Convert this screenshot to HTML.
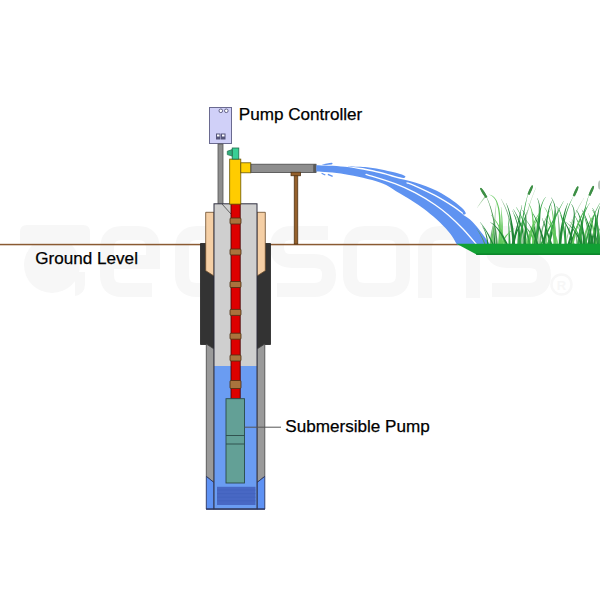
<!DOCTYPE html>
<html><head><meta charset="utf-8">
<style>
html,body{margin:0;padding:0;background:#fff;width:600px;height:600px;overflow:hidden}
svg{display:block}
text{font-family:"Liberation Sans",sans-serif}
</style></head>
<body>
<svg width="600" height="600" viewBox="0 0 600 600">
<rect width="600" height="600" fill="#fff"/>
<!-- watermark -->
<g fill="none" stroke="#f7f7f7" stroke-width="14">
<path d="M107,262 H153 V249 Q153,233 138,233 H122 Q107,233 107,249 V275 Q107,290 122,290 H152"/>
<path d="M243,233 H197 Q182,233 182,249 V275 Q182,290 197,290 H243 V215"/>
<path d="M328,233 H292 Q277,233 277,247 Q277,261 292,261 H314 Q329,261 329,275 Q329,290 314,290 H277"/>
<path d="M365,233 H388 Q403,233 403,249 V275 Q403,290 388,290 H365 Q350,290 350,275 V249 Q350,233 365,233 Z"/>
<path d="M425,298 V249 Q425,233 440,233 H458 Q473,233 473,249 V298"/>
<path d="M543,233 H507 Q492,233 492,247 Q492,261 507,261 H529 Q544,261 544,275 Q544,290 529,290 H492"/>
</g>
<g fill="#f7f7f7">
<path d="M20,232 Q20,225 27,225 H83 Q90,225 90,232 V245 H20 Z"/>
<circle cx="52" cy="265" r="28"/>
<path d="M75,272 h10 v12 q0,10 -10,12 z"/>
</g>
<circle cx="561.5" cy="284.5" r="10" fill="none" stroke="#f7f7f7" stroke-width="2.5"/>
<text x="561.5" y="290" font-size="13" font-weight="bold" text-anchor="middle" fill="#f7f7f7">R</text>

<!-- ground line -->
<rect x="0" y="243.8" width="460" height="1.5" fill="#8a5a32"/>

<!-- pump controller box -->
<rect x="209.5" y="107.5" width="22" height="36" fill="#d0d0f8" stroke="#6a6a90" stroke-width="1"/>
<circle cx="220.8" cy="110.8" r="1.8" fill="#fff" stroke="#55557a" stroke-width="0.9"/>
<circle cx="226.3" cy="110.8" r="1.8" fill="#fff" stroke="#55557a" stroke-width="0.9"/>
<rect x="216" y="133.5" width="4.5" height="6" fill="#55557a"/>
<rect x="221" y="133.5" width="4.5" height="6" fill="#55557a"/>
<rect x="217" y="134.5" width="2.5" height="2" fill="#fff"/>
<rect x="222" y="134.5" width="2.5" height="2" fill="#fff"/>

<!-- controller pole -->
<rect x="218" y="144" width="5" height="62" fill="#8e8e8e" stroke="#555" stroke-width="0.8"/>

<!-- black outer (upper) -->
<path d="M200.5 243.5 H214 V352 L206.3 344.5 H200.5 Z" fill="#333" stroke="#222" stroke-width="0.8"/>
<path d="M270.5 243.5 H257 V352 L264.7 344.5 H270.5 Z" fill="#333" stroke="#222" stroke-width="0.8"/>
<!-- tan sleeve -->
<path d="M205.7 212.3 H214 V276 L205.7 270.7 Z" fill="#f5cfa5" stroke="#6a4a2a" stroke-width="0.8"/>
<path d="M265.3 212.3 H257 V276 L265.3 270.7 Z" fill="#f5cfa5" stroke="#6a4a2a" stroke-width="0.8"/>

<!-- outer gray casing lower -->
<path d="M206.3 344 L214 349 V482.5 L206.3 476.4 Z" fill="#9a9a9a" stroke="#444" stroke-width="0.8"/>
<path d="M264.8 344 L257 349 V482.5 L264.8 476.4 Z" fill="#9a9a9a" stroke="#444" stroke-width="0.8"/>
<!-- blue outer bottom -->
<path d="M206.3 476.4 L214 482.5 V509 H206.3 Z" fill="#5e92f4" stroke="#2a3560" stroke-width="0.9"/>
<path d="M264.8 476.4 L257 482.5 V509 H264.8 Z" fill="#5e92f4" stroke="#2a3560" stroke-width="0.9"/>

<!-- inner casing -->
<rect x="214" y="203.8" width="43" height="162.2" fill="#cfcfcf"/>
<rect x="214" y="366" width="43" height="143" fill="#6a9cf2"/>
<rect x="214" y="203.8" width="43" height="305.2" fill="none" stroke="#303040" stroke-width="1"/>
<line x1="206" y1="509.2" x2="265" y2="509.2" stroke="#2a3560" stroke-width="1.3"/>
<line x1="222" y1="204" x2="231" y2="214" stroke="#444" stroke-width="0.8"/>

<!-- screen -->
<rect x="217" y="486.8" width="38.5" height="18.2" fill="#4868c4"/>
<g stroke="#4262bd" stroke-width="0.7"><line x1="217" y1="490" x2="255.5" y2="490"/><line x1="217" y1="493.6" x2="255.5" y2="493.6"/><line x1="217" y1="497.2" x2="255.5" y2="497.2"/><line x1="217" y1="500.8" x2="255.5" y2="500.8"/></g>

<!-- red riser pipe -->
<rect x="231" y="203.8" width="9.2" height="195" fill="#dd0000" stroke="#400" stroke-width="0.8"/>
<!-- couplings -->
<g fill="#a9733d" stroke="#4a2e12" stroke-width="0.8">
<rect x="230" y="218" width="11" height="6" rx="1"/>
<rect x="230" y="249" width="11" height="6" rx="1"/>
<rect x="230" y="281.5" width="11" height="6" rx="1"/>
<rect x="230" y="309.4" width="11" height="6" rx="1"/>
<rect x="230" y="333.2" width="11" height="6" rx="1"/>
<rect x="230" y="355" width="11" height="6" rx="1"/>
<rect x="230" y="380.5" width="11" height="8" rx="1"/>
</g>

<!-- pump body -->
<rect x="226" y="398.7" width="18.5" height="84.3" fill="#63a096" stroke="#2b4a48" stroke-width="0.9"/>
<line x1="226" y1="435.5" x2="244.5" y2="435.5" stroke="#2b4a48" stroke-width="0.9"/>
<line x1="226" y1="444" x2="244.5" y2="444" stroke="#2b4a48" stroke-width="0.9"/>
<line x1="244.5" y1="427.2" x2="281" y2="427.2" stroke="#555" stroke-width="1"/>

<!-- yellow vertical -->
<rect x="229.7" y="159.1" width="11.1" height="45" fill="#ffcc00" stroke="#6a5500" stroke-width="0.8"/>
<!-- green valve -->
<rect x="232.2" y="148" width="6.6" height="11.1" fill="#38cf95" stroke="#1f6a4a" stroke-width="0.8"/>
<path d="M232.2 149.6 L227.3 151.2 V154.6 L232.2 156.1 Z" fill="#2fae7c" stroke="#1f6a4a" stroke-width="0.7"/>
<!-- yellow elbow -->
<rect x="240.8" y="162.8" width="10" height="10" fill="#ffd000" stroke="#6a5500" stroke-width="0.8"/>
<!-- gray horizontal pipe -->
<rect x="251" y="164.2" width="65" height="8.4" fill="#8e8e8e" stroke="#4a4a4a" stroke-width="0.8"/>
<rect x="313.2" y="164" width="3.2" height="8.8" rx="1" fill="#5a5a5a"/>

<!-- support post -->
<rect x="294.2" y="175" width="3.6" height="69" fill="#94602c" stroke="#4a2e12" stroke-width="0.7"/>
<rect x="291" y="172.2" width="9.6" height="3.6" fill="#94602c" stroke="#4a2e12" stroke-width="0.7"/>

<!-- water spray -->

<g fill="#5f93f1">
<path d="M316.30,165.20 C321.08,165.47 334.38,165.47 345.00,166.80 C355.62,168.13 371.67,171.40 380.00,173.20 C388.33,175.00 389.17,176.03 395.00,177.60 C400.83,179.17 408.05,180.40 415.00,182.60 C421.95,184.80 430.32,187.73 436.70,190.80 C443.08,193.87 449.17,198.20 453.30,201.00 C457.43,203.80 459.55,205.85 461.50,207.60 C463.45,209.35 464.42,210.85 465.00,211.50 L465.00,211.50 C465.13,211.85 465.97,213.08 465.80,213.60 C465.63,214.12 464.63,214.50 464.00,214.60 C463.37,214.70 462.33,214.27 462.00,214.20 L462.00,214.20 C463.33,215.10 467.00,216.85 470.00,219.60 C473.00,222.35 476.67,226.55 480.00,230.70 C483.33,234.85 488.33,242.20 490.00,244.50 L457,244.5 C455.92,242.75 453.33,237.67 450.50,234.00 C447.67,230.33 443.97,226.33 440.00,222.50 C436.03,218.67 430.87,214.30 426.70,211.00 C422.53,207.70 419.45,205.62 415.00,202.70 C410.55,199.78 405.83,196.88 400.00,193.50 C394.17,190.12 389.17,185.62 380.00,182.40 C370.83,179.18 355.62,176.00 345.00,174.20 C334.38,172.40 321.08,172.03 316.30,171.60 Z"/>
<path d="M348.00,166.40 C350.83,166.50 359.67,166.53 365.00,167.00 C370.33,167.47 375.00,168.27 380.00,169.20 C385.00,170.13 391.08,171.60 395.00,172.60 C398.92,173.60 401.73,174.50 403.50,175.20 C405.27,175.90 405.25,176.53 405.60,176.80 L405.60,176.80 C405.25,176.98 405.27,178.03 403.50,177.90 C401.73,177.77 398.92,177.02 395.00,176.00 C391.08,174.98 385.00,173.07 380.00,171.80 C375.00,170.53 370.33,169.23 365.00,168.40 C359.67,167.57 350.83,167.07 348.00,166.80 Z"/>
<path d="M321.5,164.6 C325,163.8 329,163 332,162.8 C333,163.3 332.5,164.2 331.5,164.5 C328,165 324.5,165 321.5,164.6 Z"/>
<path d="M321.8,172.8 L325.6,174.6 L325,175.6 L321.4,173.8 Z"/>
<path d="M328.2,173.8 L332.9,175.8 L332.4,177 L327.6,175 Z"/>
</g>
<path d="M366.00,174.40 C370.83,175.95 386.83,180.65 395.00,183.70 C403.17,186.75 408.33,189.20 415.00,192.70 C421.67,196.20 429.45,200.98 435.00,204.70 C440.55,208.42 443.63,210.95 448.30,215.00 C452.97,219.05 458.30,224.08 463.00,229.00 C467.70,233.92 474.25,241.92 476.50,244.50" fill="none" stroke="#fff" stroke-width="1.3" stroke-linecap="round"/>
<path d="M407.00,182.80 C408.33,183.30 410.33,183.70 415.00,185.80 C419.67,187.90 428.62,191.97 435.00,195.40 C441.38,198.83 448.72,203.43 453.30,206.40 C457.88,209.37 460.97,212.07 462.50,213.20" fill="none" stroke="#fff" stroke-width="1.3" stroke-linecap="round"/>

<!-- grass -->
<path d="M540.7,247.1 L540.9,244.2 L541.1,241.4 L541.4,238.6 L541.7,235.9 L542.1,233.3 L542.6,230.7 L543.2,228.2 L543.8,225.7 L544.6,223.3 L545.4,221.0 L546.2,218.7 L547.2,216.4 L548.2,214.3 L549.3,212.1 L550.5,210.1 L551.7,208.1 L551.6,207.9 L550.2,209.9 L548.9,211.9 L547.7,214.0 L546.6,216.2 L545.5,218.4 L544.6,220.6 L543.6,223.0 L542.8,225.4 L542.0,227.9 L541.4,230.4 L540.7,233.0 L540.2,235.7 L539.7,238.4 L539.3,241.2 L539.0,244.0 L538.8,246.9Z" fill="#4f9a58" opacity="0.8"/>
<path d="M585.0,247.0 L585.1,244.9 L585.2,242.7 L585.4,240.6 L585.7,238.6 L586.0,236.6 L586.3,234.6 L586.7,232.7 L587.1,230.8 L587.6,229.0 L588.2,227.2 L588.8,225.4 L589.5,223.7 L590.2,222.0 L590.9,220.4 L591.8,218.8 L592.6,217.3 L592.5,217.2 L591.5,218.7 L590.6,220.2 L589.7,221.8 L588.9,223.4 L588.1,225.1 L587.4,226.9 L586.7,228.7 L586.1,230.5 L585.5,232.4 L585.0,234.3 L584.6,236.3 L584.1,238.3 L583.8,240.4 L583.5,242.5 L583.3,244.7 L583.1,247.0Z" fill="#4f9a58" opacity="0.8"/>
<path d="M578.1,247.0 L577.9,244.9 L577.8,242.9 L577.6,241.0 L577.3,239.1 L577.1,237.2 L576.7,235.4 L576.4,233.6 L576.0,231.9 L575.6,230.2 L575.2,228.5 L574.7,226.9 L574.2,225.4 L573.7,223.9 L573.1,222.4 L572.5,221.0 L571.8,219.6 L571.6,219.7 L572.2,221.1 L572.7,222.5 L573.2,224.0 L573.7,225.5 L574.1,227.1 L574.5,228.7 L574.8,230.4 L575.1,232.0 L575.4,233.8 L575.6,235.5 L575.9,237.4 L576.0,239.2 L576.2,241.1 L576.3,243.0 L576.4,245.0 L576.4,247.0Z" fill="#4f9a58" opacity="0.8"/>
<path d="M560.8,247.0 L560.7,244.0 L560.6,241.1 L560.4,238.3 L560.3,235.5 L560.1,232.8 L559.9,230.1 L559.7,227.5 L559.5,225.0 L559.2,222.6 L558.9,220.2 L558.7,217.8 L558.4,215.6 L558.0,213.3 L557.7,211.2 L557.4,209.1 L557.0,207.1 L556.8,207.1 L557.0,209.2 L557.3,211.3 L557.5,213.4 L557.7,215.6 L557.9,217.9 L558.1,220.2 L558.2,222.6 L558.4,225.1 L558.5,227.6 L558.6,230.2 L558.7,232.9 L558.7,235.6 L558.8,238.3 L558.8,241.2 L558.8,244.1 L558.8,247.0Z" fill="#4f9a58" opacity="0.8"/>
<path d="M558.7,246.9 L558.4,244.7 L558.1,242.6 L557.6,240.5 L557.1,238.5 L556.5,236.5 L555.8,234.6 L555.0,232.7 L554.1,230.8 L553.2,229.1 L552.2,227.3 L551.0,225.7 L549.8,224.0 L548.5,222.4 L547.2,220.9 L545.7,219.4 L544.2,218.0 L544.1,218.1 L545.5,219.6 L546.9,221.2 L548.1,222.8 L549.3,224.4 L550.4,226.1 L551.4,227.8 L552.3,229.5 L553.1,231.3 L553.9,233.1 L554.5,235.0 L555.1,236.9 L555.6,238.9 L556.0,240.9 L556.3,242.9 L556.6,245.0 L556.7,247.1Z" fill="#62c85c" opacity="0.8"/>
<path d="M495.0,247.0 L495.0,243.5 L495.0,240.1 L495.0,236.8 L495.1,233.5 L495.1,230.3 L495.2,227.2 L495.3,224.2 L495.4,221.2 L495.5,218.3 L495.6,215.5 L495.8,212.7 L495.9,210.0 L496.1,207.4 L496.3,204.9 L496.6,202.4 L496.8,200.0 L496.6,200.0 L496.2,202.4 L495.9,204.8 L495.6,207.4 L495.2,210.0 L494.9,212.6 L494.7,215.4 L494.4,218.2 L494.2,221.1 L493.9,224.1 L493.7,227.1 L493.5,230.3 L493.3,233.5 L493.2,236.7 L493.0,240.1 L492.9,243.5 L492.8,247.0Z" fill="#9cc99a" opacity="0.8"/>
<path d="M539.5,247.0 L539.5,243.6 L539.4,240.2 L539.4,237.0 L539.3,233.8 L539.3,230.6 L539.3,227.6 L539.2,224.6 L539.2,221.7 L539.2,218.8 L539.2,216.1 L539.1,213.4 L539.1,210.7 L539.1,208.2 L539.1,205.7 L539.1,203.3 L539.1,200.9 L538.9,200.9 L538.8,203.3 L538.7,205.7 L538.5,208.2 L538.4,210.7 L538.3,213.3 L538.2,216.0 L538.1,218.8 L538.0,221.7 L537.9,224.6 L537.9,227.6 L537.8,230.6 L537.7,233.8 L537.6,237.0 L537.5,240.2 L537.5,243.6 L537.4,247.0Z" fill="#9cc99a" opacity="0.8"/>
<path d="M491.5,247.0 L491.5,245.0 L491.5,243.1 L491.6,241.1 L491.7,239.3 L491.8,237.4 L492.0,235.6 L492.1,233.9 L492.3,232.2 L492.6,230.5 L492.8,228.9 L493.1,227.3 L493.4,225.7 L493.8,224.2 L494.1,222.7 L494.5,221.3 L494.9,219.9 L494.7,219.8 L494.2,221.2 L493.7,222.6 L493.2,224.1 L492.8,225.6 L492.4,227.1 L492.0,228.7 L491.6,230.3 L491.3,232.0 L491.0,233.7 L490.7,235.5 L490.4,237.3 L490.2,239.1 L490.0,241.0 L489.8,243.0 L489.7,244.9 L489.5,247.0Z" fill="#4f9a58" opacity="0.8"/>
<path d="M600.5,247.0 L600.5,243.6 L600.6,240.3 L600.7,237.0 L600.8,233.8 L601.0,230.7 L601.2,227.7 L601.5,224.7 L601.8,221.8 L602.1,218.9 L602.5,216.2 L602.9,213.5 L603.3,210.8 L603.8,208.3 L604.3,205.8 L604.9,203.4 L605.4,201.0 L605.2,201.0 L604.6,203.3 L603.9,205.7 L603.3,208.2 L602.7,210.7 L602.2,213.3 L601.7,216.0 L601.2,218.8 L600.8,221.6 L600.4,224.5 L600.0,227.5 L599.7,230.6 L599.4,233.7 L599.1,236.9 L598.9,240.2 L598.7,243.6 L598.6,247.0Z" fill="#62c85c" opacity="0.8"/>
<path d="M547.3,247.0 L547.2,245.1 L547.2,243.2 L547.2,241.4 L547.3,239.6 L547.3,237.9 L547.3,236.2 L547.4,234.5 L547.4,232.9 L547.5,231.3 L547.6,229.7 L547.7,228.2 L547.8,226.8 L547.9,225.3 L548.0,223.9 L548.1,222.6 L548.3,221.3 L548.1,221.2 L547.8,222.5 L547.6,223.9 L547.4,225.3 L547.2,226.7 L547.0,228.2 L546.8,229.7 L546.6,231.2 L546.5,232.8 L546.3,234.4 L546.2,236.1 L546.1,237.8 L545.9,239.6 L545.8,241.4 L545.7,243.2 L545.6,245.1 L545.6,247.0Z" fill="#62c85c" opacity="0.8"/>
<path d="M584.3,247.1 L584.4,244.5 L584.6,242.0 L584.9,239.6 L585.3,237.2 L585.7,234.9 L586.3,232.6 L586.9,230.3 L587.6,228.2 L588.3,226.0 L589.2,223.9 L590.1,221.9 L591.1,219.9 L592.2,217.9 L593.4,216.0 L594.7,214.2 L596.0,212.4 L595.9,212.3 L594.4,214.0 L593.0,215.8 L591.7,217.6 L590.5,219.5 L589.4,221.5 L588.3,223.5 L587.3,225.6 L586.4,227.7 L585.6,229.9 L584.8,232.2 L584.1,234.5 L583.5,236.9 L583.0,239.3 L582.6,241.8 L582.3,244.3 L582.0,246.9Z" fill="#62c85c" opacity="0.8"/>
<path d="M514.4,247.0 L514.2,243.4 L513.9,239.8 L513.4,236.4 L513.0,233.0 L512.4,229.8 L511.8,226.6 L511.0,223.4 L510.2,220.4 L509.4,217.4 L508.4,214.5 L507.4,211.7 L506.3,208.9 L505.1,206.3 L503.8,203.7 L502.5,201.2 L501.0,198.8 L500.9,198.9 L502.2,201.3 L503.4,203.9 L504.6,206.5 L505.7,209.2 L506.7,211.9 L507.6,214.8 L508.4,217.7 L509.2,220.6 L509.9,223.7 L510.5,226.8 L511.0,230.0 L511.5,233.3 L511.9,236.6 L512.2,240.0 L512.4,243.5 L512.5,247.0Z" fill="#4f9a58" opacity="0.8"/>
<path d="M534.8,247.0 L534.8,245.0 L534.8,243.1 L534.9,241.2 L534.9,239.4 L535.0,237.5 L535.1,235.8 L535.3,234.0 L535.4,232.3 L535.6,230.7 L535.8,229.1 L536.0,227.5 L536.2,225.9 L536.5,224.5 L536.8,223.0 L537.1,221.6 L537.4,220.2 L537.2,220.1 L536.8,221.5 L536.4,222.9 L535.9,224.3 L535.5,225.8 L535.2,227.3 L534.8,228.9 L534.5,230.5 L534.2,232.2 L533.9,233.9 L533.7,235.6 L533.4,237.4 L533.2,239.2 L533.0,241.1 L532.9,243.0 L532.7,245.0 L532.6,247.0Z" fill="#9cc99a" opacity="0.8"/>
<path d="M528.0,246.9 L527.8,244.5 L527.4,242.1 L527.0,239.7 L526.4,237.4 L525.8,235.2 L525.1,233.0 L524.3,230.8 L523.5,228.8 L522.5,226.7 L521.5,224.8 L520.4,222.9 L519.2,221.0 L517.9,219.2 L516.5,217.5 L515.1,215.8 L513.6,214.2 L513.4,214.3 L514.9,216.0 L516.2,217.7 L517.5,219.5 L518.6,221.4 L519.7,223.2 L520.7,225.2 L521.7,227.2 L522.5,229.2 L523.2,231.2 L523.9,233.4 L524.5,235.5 L525.0,237.7 L525.4,240.0 L525.7,242.3 L525.9,244.7 L526.1,247.1Z" fill="#62c85c" opacity="0.8"/>
<path d="M506.0,246.9 L505.7,244.7 L505.4,242.5 L504.9,240.3 L504.4,238.1 L503.7,236.0 L503.0,233.9 L502.2,231.9 L501.3,229.9 L500.3,227.9 L499.3,225.9 L498.1,224.0 L496.9,222.1 L495.6,220.2 L494.2,218.4 L492.7,216.6 L491.2,214.8 L491.0,214.9 L492.5,216.8 L493.8,218.7 L495.1,220.6 L496.3,222.5 L497.4,224.4 L498.4,226.4 L499.3,228.4 L500.1,230.4 L500.8,232.4 L501.5,234.4 L502.0,236.5 L502.5,238.6 L502.9,240.7 L503.2,242.8 L503.4,244.9 L503.6,247.1Z" fill="#62c85c"/>
<path d="M510.6,247.0 L510.6,245.0 L510.5,243.0 L510.4,241.1 L510.2,239.1 L510.1,237.2 L510.0,235.3 L509.8,233.5 L509.7,231.6 L509.5,229.8 L509.4,228.0 L509.2,226.3 L509.0,224.5 L508.8,222.8 L508.6,221.1 L508.4,219.5 L508.2,217.8 L508.0,217.8 L508.1,219.5 L508.2,221.2 L508.2,222.9 L508.3,224.6 L508.4,226.3 L508.4,228.1 L508.5,229.9 L508.5,231.7 L508.5,233.5 L508.5,235.4 L508.6,237.3 L508.6,239.2 L508.5,241.1 L508.5,243.1 L508.5,245.0 L508.4,247.0Z" fill="#33a444"/>
<path d="M537.6,247.0 L537.5,245.2 L537.3,243.5 L537.2,241.7 L537.0,240.0 L536.8,238.3 L536.5,236.7 L536.3,235.0 L536.0,233.4 L535.7,231.8 L535.4,230.3 L535.1,228.7 L534.8,227.2 L534.4,225.7 L534.1,224.2 L533.7,222.7 L533.3,221.3 L533.1,221.3 L533.3,222.8 L533.5,224.3 L533.7,225.8 L533.9,227.3 L534.1,228.9 L534.2,230.4 L534.3,232.0 L534.4,233.6 L534.5,235.2 L534.6,236.9 L534.6,238.5 L534.7,240.2 L534.7,241.9 L534.7,243.6 L534.7,245.3 L534.6,247.0Z" fill="#1e8535"/>
<path d="M520.8,247.0 L520.9,244.5 L521.0,242.0 L521.2,239.5 L521.4,237.1 L521.7,234.6 L522.0,232.2 L522.4,229.8 L522.8,227.5 L523.3,225.2 L523.9,222.9 L524.5,220.6 L525.1,218.3 L525.8,216.1 L526.6,213.9 L527.4,211.8 L528.3,209.6 L528.1,209.5 L527.1,211.6 L526.2,213.8 L525.3,215.9 L524.4,218.1 L523.6,220.3 L522.9,222.6 L522.2,224.9 L521.6,227.2 L521.0,229.6 L520.5,232.0 L520.1,234.4 L519.6,236.8 L519.3,239.3 L519.0,241.8 L518.7,244.4 L518.5,247.0Z" fill="#1e8535"/>
<path d="M514.5,247.1 L514.6,245.4 L514.7,243.6 L514.9,241.9 L515.2,240.3 L515.5,238.6 L515.9,236.9 L516.3,235.3 L516.8,233.7 L517.4,232.1 L518.0,230.5 L518.7,228.9 L519.5,227.3 L520.3,225.7 L521.2,224.2 L522.2,222.7 L523.2,221.2 L523.0,221.1 L521.9,222.5 L520.8,223.9 L519.8,225.4 L518.8,226.9 L517.9,228.4 L517.0,230.0 L516.2,231.6 L515.5,233.2 L514.8,234.8 L514.2,236.4 L513.7,238.1 L513.2,239.8 L512.8,241.6 L512.4,243.3 L512.1,245.1 L511.9,246.9Z" fill="#1e8535"/>
<path d="M495.6,247.0 L495.6,245.5 L495.5,244.1 L495.4,242.7 L495.2,241.3 L495.1,240.0 L495.0,238.6 L494.8,237.3 L494.7,236.0 L494.5,234.7 L494.4,233.4 L494.2,232.1 L494.0,230.9 L493.8,229.6 L493.6,228.4 L493.3,227.2 L493.1,226.1 L492.9,226.1 L493.0,227.3 L493.1,228.5 L493.2,229.7 L493.3,230.9 L493.4,232.2 L493.5,233.5 L493.5,234.8 L493.6,236.1 L493.6,237.4 L493.7,238.7 L493.7,240.0 L493.7,241.4 L493.7,242.8 L493.7,244.2 L493.7,245.6 L493.6,247.0Z" fill="#1e8535"/>
<path d="M582.4,246.9 L582.2,245.1 L581.8,243.3 L581.4,241.6 L581.0,239.9 L580.4,238.2 L579.8,236.5 L579.1,234.9 L578.3,233.2 L577.5,231.7 L576.5,230.1 L575.5,228.5 L574.5,227.0 L573.3,225.5 L572.1,224.1 L570.8,222.6 L569.5,221.2 L569.3,221.3 L570.6,222.8 L571.8,224.4 L572.9,225.9 L573.9,227.4 L574.8,229.0 L575.7,230.6 L576.5,232.1 L577.2,233.7 L577.8,235.4 L578.4,237.0 L578.9,238.6 L579.3,240.3 L579.7,242.0 L579.9,243.7 L580.1,245.4 L580.2,247.1Z" fill="#33a444"/>
<path d="M492.8,247.0 L492.8,245.3 L492.8,243.6 L492.8,241.9 L492.9,240.2 L492.9,238.6 L493.0,237.0 L493.2,235.4 L493.3,233.8 L493.5,232.2 L493.7,230.6 L493.9,229.1 L494.1,227.6 L494.3,226.1 L494.6,224.6 L494.9,223.1 L495.2,221.7 L495.0,221.6 L494.6,223.0 L494.2,224.5 L493.8,225.9 L493.4,227.4 L493.1,228.9 L492.7,230.5 L492.4,232.0 L492.2,233.6 L491.9,235.2 L491.6,236.8 L491.4,238.5 L491.2,240.1 L491.0,241.8 L490.9,243.5 L490.8,245.2 L490.6,247.0Z" fill="#62c85c"/>
<path d="M582.9,247.0 L582.7,245.5 L582.6,244.1 L582.4,242.7 L582.2,241.3 L582.0,240.0 L581.8,238.6 L581.6,237.3 L581.3,236.0 L581.0,234.7 L580.7,233.5 L580.4,232.2 L580.0,231.0 L579.7,229.8 L579.3,228.6 L578.9,227.4 L578.5,226.3 L578.3,226.3 L578.6,227.5 L578.8,228.7 L579.0,229.9 L579.3,231.2 L579.4,232.4 L579.6,233.7 L579.8,234.9 L579.9,236.2 L580.0,237.5 L580.1,238.8 L580.2,240.2 L580.2,241.5 L580.3,242.9 L580.3,244.3 L580.3,245.6 L580.2,247.0Z" fill="#1e8535"/>
<path d="M591.0,247.0 L590.8,244.6 L590.6,242.3 L590.4,239.9 L590.1,237.7 L589.7,235.4 L589.3,233.2 L588.9,231.0 L588.4,228.8 L587.9,226.7 L587.3,224.6 L586.7,222.5 L586.1,220.5 L585.4,218.5 L584.6,216.5 L583.8,214.5 L583.0,212.6 L582.8,212.7 L583.5,214.6 L584.2,216.6 L584.8,218.7 L585.4,220.7 L585.9,222.8 L586.4,224.8 L586.8,226.9 L587.2,229.1 L587.6,231.2 L587.9,233.4 L588.2,235.6 L588.4,237.9 L588.6,240.1 L588.7,242.4 L588.8,244.7 L588.8,247.0Z" fill="#33a444"/>
<path d="M566.6,247.0 L566.5,245.2 L566.5,243.5 L566.4,241.8 L566.3,240.1 L566.2,238.4 L566.2,236.7 L566.1,235.1 L566.0,233.5 L565.9,231.9 L565.8,230.3 L565.7,228.7 L565.6,227.2 L565.5,225.7 L565.4,224.2 L565.3,222.7 L565.2,221.2 L565.0,221.2 L565.0,222.7 L565.0,224.2 L565.0,225.7 L564.9,227.2 L564.9,228.7 L564.9,230.3 L564.9,231.9 L564.9,233.5 L564.8,235.1 L564.8,236.7 L564.8,238.4 L564.7,240.1 L564.7,241.8 L564.6,243.5 L564.6,245.2 L564.5,247.0Z" fill="#1e8535"/>
<path d="M502.5,247.1 L502.7,245.9 L502.9,244.7 L503.2,243.5 L503.5,242.3 L504.0,241.1 L504.5,239.9 L505.1,238.7 L505.8,237.5 L506.6,236.3 L507.5,235.1 L508.4,234.0 L509.4,232.8 L510.6,231.7 L511.8,230.5 L513.1,229.4 L514.4,228.3 L514.3,228.1 L512.9,229.2 L511.5,230.2 L510.2,231.2 L508.9,232.3 L507.8,233.4 L506.7,234.5 L505.7,235.6 L504.8,236.8 L504.0,238.0 L503.2,239.2 L502.5,240.4 L501.9,241.6 L501.4,242.9 L500.9,244.2 L500.6,245.5 L500.3,246.9Z" fill="#62c85c"/>
<path d="M519.4,247.0 L519.4,244.7 L519.4,242.3 L519.4,240.0 L519.4,237.8 L519.5,235.5 L519.5,233.3 L519.6,231.1 L519.7,228.9 L519.8,226.8 L519.9,224.7 L520.1,222.6 L520.2,220.5 L520.4,218.5 L520.6,216.5 L520.8,214.5 L521.1,212.5 L520.9,212.5 L520.5,214.5 L520.2,216.4 L519.8,218.4 L519.5,220.5 L519.2,222.5 L519.0,224.6 L518.7,226.7 L518.5,228.9 L518.2,231.0 L518.0,233.2 L517.8,235.4 L517.7,237.7 L517.5,240.0 L517.4,242.3 L517.2,244.6 L517.1,247.0Z" fill="#33a444"/>
<path d="M593.5,246.9 L593.2,244.3 L592.9,241.8 L592.5,239.3 L592.1,236.8 L591.6,234.3 L591.0,231.9 L590.4,229.5 L589.7,227.1 L589.0,224.8 L588.1,222.5 L587.2,220.2 L586.3,218.0 L585.3,215.8 L584.2,213.6 L583.1,211.5 L581.8,209.4 L581.7,209.5 L582.7,211.7 L583.8,213.8 L584.7,216.1 L585.6,218.3 L586.4,220.5 L587.1,222.8 L587.8,225.1 L588.4,227.5 L589.0,229.8 L589.5,232.2 L589.9,234.6 L590.2,237.1 L590.5,239.5 L590.7,242.0 L590.9,244.5 L591.0,247.1Z" fill="#1e8535"/>
<path d="M521.8,247.0 L521.6,244.5 L521.4,242.0 L521.1,239.5 L520.8,237.1 L520.4,234.8 L519.9,232.4 L519.4,230.1 L518.9,227.8 L518.3,225.5 L517.6,223.3 L516.9,221.1 L516.2,219.0 L515.4,216.8 L514.5,214.7 L513.6,212.7 L512.6,210.6 L512.4,210.7 L513.3,212.8 L514.1,214.9 L514.8,217.0 L515.5,219.2 L516.2,221.3 L516.8,223.6 L517.3,225.8 L517.8,228.0 L518.2,230.3 L518.6,232.6 L518.9,235.0 L519.2,237.3 L519.4,239.7 L519.6,242.1 L519.7,244.6 L519.8,247.0Z" fill="#1e8535"/>
<path d="M536.4,246.9 L536.1,245.3 L535.8,243.7 L535.3,242.1 L534.8,240.6 L534.2,239.0 L533.6,237.5 L532.8,236.1 L532.0,234.6 L531.1,233.2 L530.1,231.8 L529.1,230.5 L527.9,229.1 L526.7,227.8 L525.4,226.5 L524.1,225.2 L522.6,223.9 L522.5,224.1 L523.8,225.4 L525.1,226.8 L526.3,228.2 L527.4,229.6 L528.4,231.0 L529.3,232.4 L530.1,233.8 L530.9,235.2 L531.6,236.7 L532.2,238.1 L532.7,239.6 L533.1,241.1 L533.5,242.6 L533.8,244.1 L534.0,245.6 L534.1,247.1Z" fill="#33a444"/>
<path d="M501.3,247.0 L501.2,245.6 L501.1,244.2 L501.0,242.8 L500.9,241.4 L500.8,240.0 L500.6,238.7 L500.5,237.4 L500.4,236.1 L500.2,234.8 L500.0,233.5 L499.9,232.2 L499.7,231.0 L499.5,229.8 L499.3,228.6 L499.1,227.4 L498.8,226.2 L498.7,226.2 L498.7,227.4 L498.8,228.6 L498.9,229.8 L498.9,231.1 L499.0,232.3 L499.0,233.6 L499.1,234.8 L499.1,236.1 L499.1,237.4 L499.1,238.8 L499.1,240.1 L499.1,241.5 L499.1,242.8 L499.1,244.2 L499.0,245.6 L499.0,247.0Z" fill="#33a444"/>
<path d="M556.1,247.0 L556.0,244.5 L555.9,242.0 L555.8,239.6 L555.7,237.2 L555.6,234.8 L555.5,232.5 L555.4,230.1 L555.3,227.8 L555.2,225.6 L555.1,223.3 L555.0,221.1 L554.8,219.0 L554.7,216.8 L554.6,214.7 L554.4,212.6 L554.3,210.5 L554.1,210.5 L554.1,212.6 L554.1,214.7 L554.1,216.8 L554.1,219.0 L554.1,221.2 L554.1,223.4 L554.1,225.6 L554.0,227.9 L554.0,230.2 L554.0,232.5 L553.9,234.8 L553.9,237.2 L553.9,239.6 L553.8,242.0 L553.8,244.5 L553.7,247.0Z" fill="#1e8535"/>
<path d="M597.1,247.0 L597.1,245.8 L597.1,244.6 L597.2,243.4 L597.2,242.2 L597.3,241.0 L597.4,239.8 L597.6,238.6 L597.7,237.5 L597.9,236.3 L598.1,235.2 L598.3,234.1 L598.6,232.9 L598.8,231.8 L599.1,230.8 L599.5,229.7 L599.8,228.6 L599.6,228.5 L599.1,229.6 L598.7,230.6 L598.2,231.7 L597.8,232.7 L597.4,233.8 L597.1,234.9 L596.7,236.0 L596.4,237.2 L596.1,238.4 L595.8,239.5 L595.6,240.7 L595.3,241.9 L595.1,243.2 L595.0,244.4 L594.8,245.7 L594.7,247.0Z" fill="#1e8535"/>
<path d="M526.4,246.9 L526.1,244.3 L525.8,241.7 L525.3,239.1 L524.9,236.6 L524.3,234.1 L523.7,231.7 L522.9,229.2 L522.2,226.9 L521.3,224.5 L520.4,222.2 L519.4,219.9 L518.3,217.6 L517.2,215.4 L515.9,213.2 L514.6,211.1 L513.3,209.0 L513.1,209.1 L514.3,211.3 L515.5,213.5 L516.6,215.7 L517.6,218.0 L518.5,220.2 L519.4,222.6 L520.2,224.9 L520.9,227.3 L521.5,229.6 L522.0,232.1 L522.5,234.5 L522.9,237.0 L523.3,239.5 L523.5,242.0 L523.7,244.5 L523.8,247.1Z" fill="#1e8535"/>
<path d="M590.4,247.0 L590.4,244.8 L590.5,242.6 L590.5,240.5 L590.7,238.3 L590.8,236.2 L591.0,234.1 L591.2,232.0 L591.5,229.9 L591.8,227.9 L592.1,225.9 L592.5,223.9 L592.9,221.9 L593.3,220.0 L593.8,218.1 L594.3,216.2 L594.8,214.3 L594.6,214.2 L593.9,216.1 L593.3,217.9 L592.6,219.8 L592.0,221.7 L591.5,223.7 L590.9,225.6 L590.5,227.6 L590.0,229.7 L589.6,231.7 L589.2,233.8 L588.8,235.9 L588.5,238.1 L588.2,240.3 L588.0,242.5 L587.8,244.7 L587.6,247.0Z" fill="#1e8535"/>
<path d="M530.1,247.1 L530.2,245.0 L530.4,242.9 L530.6,240.8 L530.9,238.7 L531.3,236.6 L531.7,234.6 L532.2,232.6 L532.8,230.6 L533.4,228.6 L534.2,226.7 L535.0,224.7 L535.8,222.8 L536.8,220.9 L537.8,219.1 L538.9,217.2 L540.0,215.4 L539.8,215.2 L538.5,217.0 L537.3,218.8 L536.1,220.6 L535.1,222.4 L534.0,224.3 L533.1,226.2 L532.2,228.1 L531.3,230.1 L530.6,232.1 L529.9,234.1 L529.3,236.2 L528.7,238.3 L528.3,240.4 L527.9,242.5 L527.5,244.7 L527.3,246.9Z" fill="#62c85c"/>
<path d="M498.0,246.9 L497.7,243.0 L497.3,239.1 L496.8,235.4 L496.4,231.8 L495.8,228.3 L495.2,224.9 L494.6,221.6 L493.9,218.4 L493.2,215.3 L492.4,212.4 L491.5,209.5 L490.7,206.8 L489.7,204.2 L488.7,201.6 L487.7,199.2 L486.6,197.0 L486.4,197.0 L487.4,199.4 L488.3,201.8 L489.2,204.3 L490.0,207.0 L490.8,209.7 L491.5,212.6 L492.2,215.5 L492.8,218.6 L493.4,221.8 L493.9,225.1 L494.4,228.5 L494.8,232.0 L495.2,235.6 L495.5,239.3 L495.8,243.1 L496.0,247.1Z" fill="#4f9a58"/>
<path d="M484.6,196.7 L484.1,197.3 L483.6,198.0 L483.2,198.7 L482.7,199.3 L482.2,200.0 L481.7,200.7 L481.2,201.4 L480.8,202.1 L480.3,202.8 L479.8,203.5 L479.3,204.2 L478.8,204.9 L478.4,205.7 L477.9,206.4 L477.4,207.2 L476.9,207.9 L477.1,208.1 L477.6,207.3 L478.1,206.6 L478.6,205.9 L479.2,205.2 L479.7,204.5 L480.2,203.8 L480.7,203.1 L481.2,202.4 L481.8,201.8 L482.3,201.1 L482.8,200.4 L483.3,199.8 L483.8,199.2 L484.4,198.5 L484.9,197.9 L485.4,197.3Z" fill="#9cc99a"/>
<path d="M500.2,247.1 L500.5,242.4 L500.7,237.7 L500.8,233.0 L500.9,228.5 L500.8,224.0 L500.6,219.8 L500.3,215.7 L499.8,211.9 L499.2,208.3 L498.3,205.0 L497.3,202.1 L496.0,199.6 L494.5,197.6 L492.8,196.0 L490.8,194.9 L488.5,194.4 L488.5,194.6 L490.6,195.2 L492.5,196.4 L494.0,198.0 L495.4,200.0 L496.5,202.5 L497.3,205.3 L498.0,208.5 L498.5,212.0 L498.9,215.8 L499.1,219.8 L499.1,224.1 L499.0,228.4 L498.9,233.0 L498.6,237.6 L498.2,242.2 L497.8,246.9Z" fill="#62c85c"/>
<path d="M515.3,246.9 L515.0,243.0 L514.6,239.2 L514.2,235.6 L513.7,232.1 L513.3,228.8 L512.8,225.7 L512.2,222.7 L511.7,219.9 L511.1,217.2 L510.5,214.7 L509.8,212.3 L509.1,210.1 L508.4,208.1 L507.7,206.2 L506.9,204.5 L506.1,203.0 L505.9,203.0 L506.6,204.6 L507.2,206.4 L507.8,208.3 L508.4,210.4 L508.9,212.6 L509.4,214.9 L509.9,217.5 L510.3,220.1 L510.7,223.0 L511.1,225.9 L511.4,229.1 L511.8,232.4 L512.0,235.8 L512.3,239.4 L512.5,243.2 L512.7,247.1Z" fill="#1e8535"/>
<path d="M494.7,246.7 L493.9,244.9 L493.1,243.0 L492.3,241.3 L491.4,239.5 L490.6,237.9 L489.7,236.2 L488.8,234.6 L487.9,233.0 L487.0,231.5 L486.0,230.0 L485.1,228.6 L484.1,227.2 L483.1,225.8 L482.1,224.5 L481.1,223.2 L480.1,221.9 L479.9,222.1 L480.9,223.4 L481.8,224.7 L482.7,226.1 L483.6,227.5 L484.5,228.9 L485.4,230.4 L486.3,231.9 L487.1,233.5 L487.9,235.1 L488.7,236.7 L489.5,238.4 L490.3,240.1 L491.1,241.8 L491.8,243.6 L492.5,245.4 L493.3,247.3Z" fill="#1e8535"/>
<path d="M502.4,247.1 L502.5,244.4 L502.7,241.6 L502.8,239.0 L502.8,236.3 L502.9,233.7 L502.8,231.1 L502.8,228.5 L502.8,226.0 L502.7,223.5 L502.5,221.0 L502.4,218.6 L502.2,216.2 L502.0,213.9 L501.7,211.5 L501.4,209.2 L501.1,207.0 L500.9,207.0 L501.1,209.3 L501.2,211.6 L501.3,213.9 L501.3,216.3 L501.4,218.7 L501.4,221.1 L501.3,223.5 L501.2,226.0 L501.2,228.5 L501.0,231.0 L500.9,233.6 L500.7,236.2 L500.5,238.8 L500.2,241.5 L499.9,244.2 L499.6,246.9Z" fill="#62c85c"/>
<path d="M488.7,247.0 L488.5,245.1 L488.3,243.3 L488.1,241.6 L487.8,240.0 L487.5,238.4 L487.2,236.9 L486.8,235.5 L486.4,234.1 L486.0,232.9 L485.5,231.7 L485.0,230.5 L484.5,229.5 L483.9,228.5 L483.3,227.5 L482.7,226.7 L482.1,225.9 L481.9,226.1 L482.5,226.9 L483.0,227.7 L483.5,228.7 L484.0,229.7 L484.5,230.7 L484.9,231.9 L485.3,233.1 L485.6,234.4 L485.9,235.7 L486.2,237.1 L486.5,238.6 L486.7,240.1 L486.9,241.8 L487.1,243.5 L487.2,245.2 L487.3,247.0Z" fill="#1e8535"/>
<path d="M509.0,246.6 L507.9,244.3 L506.8,242.0 L505.7,239.9 L504.6,237.9 L503.5,236.0 L502.3,234.2 L501.2,232.5 L500.0,230.9 L498.8,229.4 L497.6,228.0 L496.4,226.7 L495.1,225.6 L493.9,224.5 L492.6,223.5 L491.3,222.7 L490.1,221.9 L489.9,222.1 L491.1,222.9 L492.3,223.9 L493.5,224.9 L494.6,226.1 L495.8,227.3 L496.9,228.6 L497.9,230.1 L499.0,231.6 L500.1,233.2 L501.1,235.0 L502.1,236.8 L503.1,238.7 L504.1,240.7 L505.1,242.9 L506.0,245.1 L507.0,247.4Z" fill="#1e8535"/>
<path d="M521.0,247.1 L521.2,243.1 L521.4,239.2 L521.7,235.5 L522.0,231.8 L522.4,228.2 L522.7,224.6 L523.1,221.2 L523.5,217.8 L524.0,214.6 L524.5,211.4 L525.0,208.3 L525.6,205.3 L526.2,202.3 L526.8,199.5 L527.4,196.7 L528.1,194.0 L527.9,194.0 L527.1,196.6 L526.4,199.4 L525.6,202.2 L524.9,205.1 L524.3,208.1 L523.6,211.2 L523.0,214.4 L522.5,217.7 L521.9,221.0 L521.4,224.5 L520.9,228.0 L520.5,231.6 L520.1,235.3 L519.7,239.1 L519.3,243.0 L519.0,246.9Z" fill="#33a444"/>
<path d="M522.6,247.0 L522.9,243.1 L523.2,239.1 L523.6,235.2 L524.1,231.3 L524.7,227.5 L525.3,223.7 L526.0,219.9 L526.8,216.2 L527.7,212.5 L528.7,208.8 L529.7,205.2 L530.8,201.6 L532.0,198.0 L533.3,194.5 L534.7,191.0 L536.1,187.5 L535.9,187.5 L534.4,190.9 L533.0,194.4 L531.7,197.9 L530.4,201.5 L529.2,205.1 L528.1,208.7 L527.1,212.3 L526.2,216.0 L525.3,219.8 L524.5,223.6 L523.8,227.4 L523.2,231.2 L522.6,235.1 L522.1,239.0 L521.7,243.0 L521.4,247.0Z" fill="#9cc99a"/>
<path d="M535.3,247.3 L536.3,243.2 L537.2,239.2 L538.0,235.2 L538.7,231.4 L539.3,227.6 L539.7,224.1 L540.1,220.6 L540.3,217.3 L540.4,214.2 L540.4,211.2 L540.2,208.4 L539.9,205.9 L539.4,203.5 L538.8,201.4 L538.0,199.6 L537.1,197.9 L536.9,198.1 L537.7,199.7 L538.3,201.6 L538.8,203.7 L539.1,206.0 L539.3,208.5 L539.3,211.2 L539.2,214.1 L538.9,217.2 L538.6,220.4 L538.1,223.8 L537.4,227.3 L536.7,231.0 L535.9,234.8 L534.9,238.6 L533.9,242.6 L532.7,246.7Z" fill="#1e8535"/>
<path d="M548.6,247.4 L550.1,242.8 L551.4,238.3 L552.5,234.1 L553.5,230.1 L554.3,226.3 L555.0,222.7 L555.4,219.3 L555.7,216.1 L555.8,213.1 L555.7,210.3 L555.4,207.7 L555.0,205.2 L554.3,203.0 L553.4,200.9 L552.4,199.1 L551.1,197.4 L550.9,197.6 L552.1,199.3 L553.0,201.1 L553.7,203.2 L554.2,205.4 L554.6,207.8 L554.7,210.3 L554.6,213.1 L554.4,216.0 L554.0,219.1 L553.4,222.5 L552.7,226.0 L551.7,229.7 L550.6,233.6 L549.4,237.7 L547.9,242.1 L546.4,246.6Z" fill="#1e8535"/>
<path d="M556.5,247.0 L556.4,243.9 L556.3,240.8 L556.1,237.9 L555.9,235.0 L555.7,232.1 L555.4,229.3 L555.1,226.6 L554.8,223.9 L554.4,221.3 L554.1,218.8 L553.6,216.3 L553.2,213.9 L552.7,211.6 L552.2,209.3 L551.7,207.1 L551.1,205.0 L550.9,205.0 L551.3,207.2 L551.7,209.4 L552.0,211.7 L552.3,214.1 L552.6,216.5 L552.8,219.0 L553.0,221.5 L553.2,224.1 L553.3,226.7 L553.5,229.4 L553.5,232.2 L553.6,235.0 L553.6,237.9 L553.6,240.9 L553.6,243.9 L553.5,247.0Z" fill="#62c85c"/>
<path d="M541.0,247.5 L542.4,244.3 L543.9,241.2 L545.3,238.2 L546.7,235.1 L548.2,232.1 L549.6,229.1 L551.0,226.2 L552.5,223.3 L553.9,220.4 L555.3,217.5 L556.7,214.7 L558.1,211.9 L559.6,209.2 L561.0,206.4 L562.4,203.7 L563.8,201.0 L563.6,201.0 L562.1,203.6 L560.6,206.2 L559.0,208.9 L557.5,211.6 L556.0,214.3 L554.5,217.1 L552.9,219.9 L551.4,222.7 L549.9,225.6 L548.3,228.5 L546.8,231.4 L545.2,234.4 L543.7,237.4 L542.1,240.4 L540.6,243.4 L539.0,246.5Z" fill="#33a444"/>
<path d="M561.0,247.1 L561.3,243.2 L561.7,239.3 L562.2,235.6 L562.7,231.9 L563.3,228.4 L564.0,225.0 L564.7,221.6 L565.4,218.4 L566.3,215.3 L567.1,212.2 L568.1,209.3 L569.1,206.4 L570.1,203.7 L571.3,201.0 L572.4,198.5 L573.7,196.0 L573.5,196.0 L572.2,198.4 L570.9,200.9 L569.6,203.5 L568.5,206.2 L567.4,209.0 L566.3,211.9 L565.3,215.0 L564.4,218.1 L563.5,221.3 L562.7,224.7 L561.9,228.1 L561.2,231.7 L560.6,235.3 L560.0,239.1 L559.5,242.9 L559.0,246.9Z" fill="#33a444"/>
<path d="M565.6,247.1 L566.2,243.8 L566.9,240.4 L567.7,237.2 L568.5,233.9 L569.4,230.7 L570.4,227.6 L571.5,224.5 L572.6,221.4 L573.8,218.3 L575.0,215.3 L576.4,212.3 L577.8,209.4 L579.2,206.5 L580.8,203.7 L582.4,200.8 L584.1,198.1 L583.9,197.9 L582.2,200.7 L580.5,203.5 L578.9,206.3 L577.4,209.2 L575.9,212.1 L574.5,215.1 L573.2,218.1 L571.9,221.1 L570.7,224.2 L569.6,227.3 L568.6,230.5 L567.6,233.7 L566.7,236.9 L565.9,240.2 L565.1,243.5 L564.4,246.9Z" fill="#9cc99a"/>
<path d="M581.0,247.1 L581.2,243.1 L581.5,239.3 L581.8,235.5 L582.1,231.8 L582.5,228.3 L582.9,224.8 L583.3,221.4 L583.8,218.1 L584.3,214.9 L584.9,211.8 L585.5,208.8 L586.1,205.8 L586.8,203.0 L587.5,200.2 L588.3,197.6 L589.1,195.0 L588.9,195.0 L588.0,197.5 L587.1,200.1 L586.3,202.9 L585.5,205.7 L584.7,208.6 L584.0,211.6 L583.3,214.7 L582.7,217.9 L582.1,221.2 L581.5,224.6 L581.0,228.1 L580.5,231.7 L580.1,235.3 L579.7,239.1 L579.3,243.0 L579.0,246.9Z" fill="#33a444"/>
<path d="M586.0,247.2 L586.6,243.9 L587.2,240.6 L587.9,237.4 L588.6,234.3 L589.3,231.3 L590.1,228.3 L590.9,225.5 L591.8,222.7 L592.7,220.0 L593.6,217.3 L594.6,214.7 L595.6,212.3 L596.7,209.8 L597.8,207.5 L598.9,205.2 L600.1,203.1 L599.9,202.9 L598.6,205.1 L597.4,207.3 L596.2,209.6 L595.0,212.0 L593.9,214.5 L592.8,217.0 L591.7,219.6 L590.7,222.3 L589.8,225.1 L588.8,228.0 L587.9,230.9 L587.1,233.9 L586.2,237.0 L585.5,240.2 L584.7,243.5 L584.0,246.8Z" fill="#33a444"/>
<path d="M569.2,247.3 L570.2,243.2 L571.1,239.3 L572.0,235.6 L572.7,232.0 L573.4,228.7 L573.9,225.4 L574.4,222.4 L574.6,219.6 L574.8,216.9 L574.8,214.4 L574.6,212.2 L574.3,210.1 L573.8,208.2 L573.1,206.6 L572.2,205.1 L571.1,203.9 L570.9,204.1 L571.9,205.3 L572.6,206.8 L573.2,208.4 L573.5,210.2 L573.7,212.2 L573.8,214.4 L573.6,216.8 L573.4,219.4 L572.9,222.2 L572.4,225.2 L571.7,228.3 L570.9,231.6 L570.1,235.1 L569.1,238.8 L568.0,242.7 L566.8,246.7Z" fill="#1e8535"/>
<path d="M591.1,247.4 L592.2,243.8 L593.1,240.4 L593.9,237.1 L594.6,233.9 L595.2,230.9 L595.6,228.0 L596.0,225.3 L596.1,222.7 L596.2,220.2 L596.1,217.9 L595.8,215.8 L595.4,213.9 L594.8,212.1 L594.1,210.5 L593.2,209.1 L592.1,207.9 L591.9,208.1 L592.9,209.3 L593.7,210.7 L594.3,212.3 L594.7,214.0 L595.0,215.9 L595.1,218.0 L595.0,220.2 L594.9,222.6 L594.5,225.1 L594.1,227.8 L593.5,230.6 L592.8,233.5 L592.0,236.6 L591.0,239.8 L590.0,243.2 L588.9,246.6Z" fill="#1e8535"/>
<path d="M575.2,246.8 L574.6,244.4 L573.9,242.1 L573.2,239.8 L572.5,237.6 L571.7,235.4 L570.9,233.3 L570.0,231.3 L569.1,229.2 L568.1,227.3 L567.1,225.4 L566.1,223.5 L564.9,221.7 L563.8,219.9 L562.6,218.2 L561.4,216.5 L560.1,214.9 L559.9,215.1 L561.1,216.7 L562.2,218.5 L563.3,220.2 L564.3,222.1 L565.3,223.9 L566.2,225.8 L567.1,227.8 L567.9,229.8 L568.7,231.8 L569.4,233.9 L570.1,236.0 L570.7,238.2 L571.3,240.4 L571.9,242.6 L572.4,244.9 L572.8,247.2Z" fill="#1e8535"/>
<path d="M597.3,246.9 L597.0,244.2 L596.6,241.5 L596.2,239.0 L595.7,236.5 L595.3,234.1 L594.8,231.7 L594.2,229.5 L593.7,227.3 L593.1,225.3 L592.5,223.3 L591.8,221.3 L591.1,219.5 L590.4,217.7 L589.7,216.1 L588.9,214.5 L588.1,213.0 L587.9,213.0 L588.6,214.6 L589.2,216.3 L589.8,218.0 L590.4,219.8 L590.9,221.6 L591.4,223.6 L591.9,225.6 L592.3,227.7 L592.7,229.8 L593.1,232.1 L593.4,234.4 L593.8,236.8 L594.0,239.2 L594.3,241.8 L594.5,244.4 L594.7,247.1Z" fill="#62c85c"/>
<path d="M486.6,246.8 L486.0,245.4 L485.5,244.1 L484.9,242.8 L484.3,241.5 L483.7,240.2 L483.1,239.0 L482.5,237.8 L481.8,236.6 L481.1,235.4 L480.5,234.3 L479.8,233.2 L479.1,232.1 L478.3,231.0 L477.6,230.0 L476.8,228.9 L476.1,227.9 L475.9,228.1 L476.6,229.1 L477.3,230.1 L478.0,231.2 L478.7,232.3 L479.3,233.4 L480.0,234.6 L480.6,235.7 L481.2,236.9 L481.8,238.1 L482.3,239.4 L482.9,240.6 L483.4,241.9 L484.0,243.2 L484.5,244.5 L485.0,245.8 L485.4,247.2Z" fill="#4f9a58"/>
<path d="M528.4,247.3 L528.8,244.5 L529.3,241.9 L529.8,239.3 L530.4,236.8 L530.9,234.4 L531.6,232.0 L532.2,229.7 L533.0,227.5 L533.7,225.3 L534.5,223.3 L535.3,221.2 L536.2,219.3 L537.1,217.4 L538.1,215.5 L539.0,213.8 L540.1,212.1 L539.9,211.9 L538.7,213.6 L537.6,215.3 L536.5,217.0 L535.4,218.9 L534.4,220.8 L533.4,222.8 L532.5,224.8 L531.5,227.0 L530.7,229.2 L529.8,231.5 L529.0,233.9 L528.3,236.3 L527.6,238.8 L526.9,241.4 L526.2,244.0 L525.6,246.7Z" fill="#62c85c"/>
<path d="M546.2,246.7 L545.5,244.0 L544.7,241.4 L544.0,238.8 L543.2,236.3 L542.4,233.9 L541.6,231.5 L540.7,229.2 L539.9,227.0 L539.0,224.9 L538.1,222.8 L537.1,220.8 L536.2,218.9 L535.2,217.1 L534.2,215.3 L533.1,213.6 L532.1,211.9 L531.9,212.1 L532.8,213.7 L533.7,215.5 L534.6,217.3 L535.5,219.2 L536.3,221.2 L537.1,223.2 L537.9,225.3 L538.6,227.5 L539.4,229.7 L540.1,232.0 L540.8,234.4 L541.4,236.8 L542.1,239.3 L542.7,241.9 L543.3,244.6 L543.8,247.3Z" fill="#1e8535"/>
<path d="M531.1,246.8 L530.5,243.7 L529.9,240.7 L529.2,237.8 L528.5,234.9 L527.7,232.1 L526.9,229.5 L526.0,226.8 L525.1,224.3 L524.1,221.8 L523.1,219.5 L522.0,217.2 L520.9,215.0 L519.8,212.8 L518.6,210.8 L517.4,208.8 L516.1,206.9 L515.9,207.1 L517.1,209.0 L518.2,211.0 L519.3,213.1 L520.3,215.3 L521.3,217.5 L522.2,219.8 L523.1,222.2 L523.9,224.7 L524.7,227.2 L525.5,229.9 L526.2,232.6 L526.8,235.3 L527.4,238.2 L528.0,241.1 L528.5,244.1 L528.9,247.2Z" fill="#33a444"/>
<path d="M513.1,247.3 L513.7,244.5 L514.4,241.8 L515.1,239.1 L515.7,236.3 L516.3,233.6 L516.9,231.0 L517.5,228.3 L518.1,225.6 L518.6,223.0 L519.2,220.4 L519.7,217.8 L520.2,215.2 L520.7,212.6 L521.2,210.1 L521.7,207.5 L522.1,205.0 L521.9,205.0 L521.3,207.5 L520.7,210.0 L520.1,212.5 L519.5,215.0 L518.9,217.6 L518.3,220.2 L517.6,222.8 L516.9,225.4 L516.2,228.0 L515.5,230.6 L514.8,233.3 L514.1,235.9 L513.3,238.6 L512.5,241.3 L511.7,244.0 L510.9,246.7Z" fill="#1e8535"/>
<path d="M571.0,247.3 L572.0,244.2 L572.9,241.2 L573.9,238.3 L574.8,235.4 L575.7,232.6 L576.7,229.9 L577.6,227.3 L578.6,224.7 L579.5,222.2 L580.4,219.8 L581.4,217.5 L582.3,215.3 L583.3,213.1 L584.2,211.0 L585.1,209.0 L586.1,207.0 L585.9,207.0 L584.9,208.8 L583.8,210.8 L582.7,212.9 L581.7,215.0 L580.6,217.2 L579.6,219.5 L578.5,221.8 L577.4,224.3 L576.4,226.8 L575.3,229.4 L574.3,232.1 L573.2,234.8 L572.1,237.7 L571.1,240.6 L570.0,243.6 L569.0,246.7Z" fill="#1e8535"/>
<path d="M589.0,246.6 L588.0,243.9 L586.9,241.3 L585.9,238.8 L584.9,236.4 L583.9,234.0 L583.0,231.8 L582.0,229.6 L581.1,227.5 L580.1,225.5 L579.2,223.6 L578.3,221.8 L577.4,220.0 L576.6,218.4 L575.7,216.8 L574.9,215.3 L574.1,214.0 L573.9,214.0 L574.6,215.5 L575.3,217.0 L576.1,218.6 L576.8,220.3 L577.6,222.1 L578.3,224.0 L579.1,225.9 L579.9,228.0 L580.8,230.1 L581.6,232.3 L582.5,234.6 L583.3,237.0 L584.2,239.5 L585.1,242.0 L586.0,244.7 L587.0,247.4Z" fill="#33a444"/>
<path d="M553.0,246.7 L552.2,244.3 L551.5,242.1 L550.7,239.9 L549.9,237.8 L549.2,235.8 L548.5,233.8 L547.8,231.9 L547.1,230.1 L546.4,228.3 L545.7,226.6 L545.1,225.0 L544.5,223.4 L543.8,222.0 L543.2,220.6 L542.7,219.2 L542.1,218.0 L541.9,218.0 L542.4,219.3 L542.8,220.7 L543.3,222.2 L543.8,223.7 L544.3,225.3 L544.8,226.9 L545.4,228.7 L545.9,230.4 L546.5,232.3 L547.1,234.2 L547.7,236.3 L548.3,238.3 L549.0,240.5 L549.6,242.7 L550.3,245.0 L551.0,247.3Z" fill="#1e8535"/>
<path d="M599.2,247.1 L599.2,244.7 L599.2,242.4 L599.2,240.1 L599.2,237.9 L599.1,235.7 L599.0,233.6 L598.8,231.5 L598.6,229.5 L598.4,227.5 L598.2,225.5 L597.9,223.7 L597.6,221.8 L597.3,220.0 L596.9,218.3 L596.5,216.6 L596.1,215.0 L595.9,215.0 L596.2,216.7 L596.5,218.4 L596.7,220.1 L596.9,221.9 L597.0,223.8 L597.2,225.6 L597.3,227.6 L597.4,229.5 L597.4,231.6 L597.4,233.6 L597.4,235.7 L597.3,237.9 L597.2,240.1 L597.1,242.3 L597.0,244.6 L596.8,246.9Z" fill="#1e8535"/>
<path d="M537.2,247.1 L537.3,242.9 L537.5,238.8 L537.8,234.7 L538.1,230.7 L538.4,226.8 L538.8,222.9 L539.3,219.3 L539.8,215.7 L540.3,212.4 L541.0,209.3 L541.6,206.5 L542.4,204.0 L543.2,201.7 L544.1,199.8 L545.0,198.2 L546.1,197.1 L545.9,196.9 L544.8,198.0 L543.7,199.6 L542.7,201.5 L541.7,203.7 L540.8,206.3 L540.0,209.1 L539.2,212.2 L538.5,215.5 L537.8,219.0 L537.2,222.7 L536.7,226.6 L536.2,230.5 L535.8,234.6 L535.4,238.7 L535.1,242.8 L534.8,246.9Z" fill="#33a444"/>
<path d="M545.1,247.1 L545.4,243.0 L545.7,239.0 L546.1,235.0 L546.4,231.2 L546.7,227.4 L547.1,223.9 L547.5,220.5 L548.0,217.2 L548.4,214.2 L548.9,211.4 L549.5,208.8 L550.1,206.5 L550.8,204.4 L551.5,202.7 L552.2,201.2 L553.1,200.1 L552.9,199.9 L552.0,201.0 L551.1,202.5 L550.2,204.2 L549.4,206.3 L548.7,208.6 L548.0,211.2 L547.4,214.0 L546.8,217.0 L546.2,220.3 L545.7,223.7 L545.2,227.3 L544.7,231.0 L544.2,234.8 L543.8,238.8 L543.3,242.8 L542.9,246.9Z" fill="#1e8535"/>
<path d="M534.1,247.0 L534.2,242.5 L534.3,238.2 L534.3,234.1 L534.2,230.3 L534.1,226.7 L533.9,223.4 L533.7,220.3 L533.3,217.4 L533.0,214.8 L532.5,212.4 L532.0,210.3 L531.4,208.4 L530.7,206.7 L529.9,205.2 L529.0,203.9 L528.1,202.9 L527.9,203.1 L528.8,204.1 L529.5,205.4 L530.1,206.9 L530.7,208.6 L531.2,210.5 L531.6,212.6 L531.9,215.0 L532.2,217.6 L532.3,220.4 L532.5,223.4 L532.5,226.7 L532.5,230.3 L532.4,234.1 L532.3,238.1 L532.1,242.4 L531.9,247.0Z" fill="#62c85c"/>
<path d="M561.2,247.0 L561.2,243.4 L561.3,239.9 L561.6,236.2 L561.9,232.6 L562.3,229.1 L562.8,225.7 L563.3,222.3 L563.9,219.1 L564.5,216.1 L565.1,213.4 L565.7,210.8 L566.3,208.6 L566.8,206.6 L567.3,205.1 L567.7,203.9 L568.1,203.1 L567.9,202.9 L567.4,203.7 L566.9,204.9 L566.2,206.4 L565.5,208.4 L564.8,210.6 L564.1,213.1 L563.3,215.9 L562.6,218.9 L561.9,222.0 L561.2,225.4 L560.6,228.9 L560.1,232.4 L559.6,236.0 L559.2,239.7 L558.9,243.4 L558.8,247.0Z" fill="#1e8535"/>
<path d="M567.0,246.9 L566.6,243.4 L566.1,239.8 L565.7,236.4 L565.2,233.0 L564.7,229.8 L564.2,226.6 L563.6,223.6 L563.0,220.8 L562.4,218.1 L561.7,215.6 L560.9,213.3 L560.1,211.3 L559.2,209.5 L558.2,208.0 L557.2,206.8 L556.1,205.9 L555.9,206.1 L557.0,207.0 L557.9,208.3 L558.7,209.8 L559.5,211.5 L560.2,213.6 L560.9,215.8 L561.4,218.3 L562.0,221.0 L562.4,223.8 L562.9,226.8 L563.3,230.0 L563.7,233.2 L564.0,236.6 L564.4,240.0 L564.7,243.6 L565.0,247.1Z" fill="#33a444"/>
<path d="M579.1,247.1 L579.4,243.1 L579.8,239.2 L580.2,235.5 L580.7,232.0 L581.2,228.6 L581.8,225.4 L582.4,222.4 L583.1,219.5 L583.8,216.9 L584.5,214.4 L585.3,212.0 L586.2,209.9 L587.1,207.9 L588.0,206.1 L589.0,204.5 L590.1,203.1 L589.9,202.9 L588.8,204.3 L587.7,205.9 L586.6,207.6 L585.6,209.6 L584.6,211.7 L583.6,214.0 L582.8,216.5 L581.9,219.2 L581.1,222.1 L580.4,225.1 L579.7,228.3 L579.0,231.7 L578.4,235.2 L577.9,239.0 L577.4,242.8 L576.9,246.9Z" fill="#33a444"/>
<path d="M595.2,247.1 L595.5,243.1 L595.8,239.2 L596.1,235.5 L596.4,232.0 L596.7,228.6 L597.0,225.5 L597.3,222.6 L597.6,219.8 L597.9,217.3 L598.3,215.0 L598.6,212.9 L598.9,211.1 L599.2,209.5 L599.5,208.1 L599.8,206.9 L600.1,206.0 L599.9,206.0 L599.5,206.8 L599.0,207.9 L598.6,209.3 L598.1,210.9 L597.7,212.8 L597.2,214.8 L596.8,217.1 L596.4,219.7 L595.9,222.4 L595.5,225.3 L595.0,228.4 L594.6,231.8 L594.1,235.3 L593.7,239.0 L593.2,242.9 L592.8,246.9Z" fill="#1e8535"/>
<path d="M557.0,246.8 L556.2,243.3 L555.4,239.8 L554.6,236.5 L553.9,233.3 L553.2,230.2 L552.4,227.2 L551.7,224.3 L550.9,221.6 L550.1,219.1 L549.4,216.7 L548.6,214.5 L547.7,212.6 L546.9,210.8 L546.0,209.3 L545.0,208.0 L544.1,206.9 L543.9,207.1 L544.8,208.2 L545.6,209.5 L546.4,211.0 L547.1,212.8 L547.8,214.8 L548.5,217.0 L549.2,219.3 L549.8,221.9 L550.5,224.6 L551.1,227.5 L551.8,230.5 L552.4,233.6 L553.0,236.9 L553.7,240.2 L554.3,243.7 L555.0,247.2Z" fill="#62c85c"/>
<path d="M585.1,247.0 L585.0,243.5 L584.8,240.1 L584.5,236.8 L584.2,233.7 L583.7,230.7 L583.2,227.9 L582.7,225.2 L582.1,222.7 L581.4,220.4 L580.7,218.3 L580.0,216.4 L579.3,214.7 L578.5,213.1 L577.7,211.8 L576.9,210.8 L576.1,209.9 L575.9,210.1 L576.6,211.0 L577.3,212.1 L578.0,213.4 L578.6,214.9 L579.2,216.7 L579.8,218.6 L580.4,220.7 L580.9,223.0 L581.4,225.5 L581.8,228.1 L582.2,230.9 L582.5,233.9 L582.7,236.9 L582.8,240.2 L582.9,243.5 L582.9,247.0Z" fill="#1e8535"/>
<path d="M573.0,247.2 L573.7,243.7 L574.4,240.4 L575.1,237.3 L575.8,234.3 L576.4,231.5 L577.1,228.8 L577.8,226.3 L578.5,224.1 L579.2,221.9 L579.9,220.0 L580.6,218.2 L581.3,216.6 L582.0,215.2 L582.7,214.0 L583.4,212.9 L584.1,212.1 L583.9,211.9 L583.1,212.7 L582.3,213.8 L581.5,215.0 L580.7,216.3 L579.9,217.9 L579.1,219.7 L578.3,221.6 L577.5,223.7 L576.7,226.0 L575.9,228.4 L575.1,231.1 L574.2,233.9 L573.4,236.9 L572.6,240.0 L571.8,243.3 L571.0,246.8Z" fill="#62c85c"/>
<path d="M549.0,247.1 L549.4,244.0 L549.8,240.8 L550.3,237.8 L550.9,234.8 L551.6,231.9 L552.3,229.1 L553.0,226.4 L553.8,223.8 L554.6,221.4 L555.4,219.1 L556.2,217.1 L557.0,215.2 L557.8,213.6 L558.6,212.2 L559.4,211.0 L560.1,210.1 L559.9,209.9 L559.1,210.8 L558.2,211.9 L557.3,213.3 L556.4,214.9 L555.5,216.8 L554.6,218.8 L553.6,221.0 L552.7,223.4 L551.8,226.0 L551.0,228.7 L550.2,231.5 L549.4,234.4 L548.7,237.5 L548.1,240.5 L547.5,243.7 L547.0,246.9Z" fill="#33a444"/>
<path d="M601.1,246.9 L600.7,243.4 L600.2,240.0 L599.8,236.7 L599.3,233.5 L598.8,230.5 L598.4,227.6 L597.9,224.9 L597.3,222.4 L596.8,220.0 L596.2,217.9 L595.6,216.0 L595.0,214.3 L594.3,212.8 L593.6,211.6 L592.9,210.6 L592.1,209.9 L591.9,210.1 L592.6,210.8 L593.2,211.8 L593.8,213.0 L594.3,214.5 L594.8,216.2 L595.3,218.1 L595.7,220.3 L596.2,222.6 L596.6,225.1 L596.9,227.8 L597.3,230.7 L597.6,233.7 L598.0,236.9 L598.3,240.2 L598.6,243.6 L598.9,247.1Z" fill="#33a444"/>
<path d="M525.1,247.1 L525.4,243.6 L525.7,240.2 L526.0,237.0 L526.2,233.8 L526.4,230.9 L526.6,228.0 L526.6,225.4 L526.6,222.9 L526.5,220.5 L526.3,218.4 L525.9,216.5 L525.5,214.7 L524.8,213.2 L524.1,211.8 L523.2,210.8 L522.1,209.9 L521.9,210.1 L522.9,211.0 L523.7,212.1 L524.3,213.4 L524.8,214.9 L525.1,216.6 L525.3,218.5 L525.4,220.6 L525.4,222.9 L525.3,225.3 L525.1,228.0 L524.8,230.7 L524.5,233.7 L524.2,236.8 L523.8,240.0 L523.3,243.4 L522.9,246.9Z" fill="#1e8535"/>
<path d="M539.0,246.8 L538.4,244.7 L537.8,242.6 L537.2,240.6 L536.5,238.7 L535.8,236.8 L535.1,235.0 L534.3,233.2 L533.5,231.5 L532.7,229.9 L531.8,228.3 L530.9,226.7 L530.0,225.3 L529.1,223.9 L528.1,222.5 L527.1,221.2 L526.1,219.9 L525.9,220.1 L526.9,221.4 L527.8,222.7 L528.6,224.1 L529.5,225.6 L530.3,227.1 L531.0,228.7 L531.8,230.3 L532.5,232.0 L533.2,233.7 L533.8,235.5 L534.4,237.3 L535.0,239.2 L535.6,241.1 L536.1,243.1 L536.6,245.1 L537.0,247.2Z" fill="#1e8535"/>
<path d="M583.0,246.7 L582.4,244.9 L581.7,243.0 L581.0,241.2 L580.2,239.5 L579.4,237.8 L578.5,236.1 L577.5,234.5 L576.5,233.0 L575.4,231.4 L574.2,229.9 L573.0,228.5 L571.7,227.1 L570.4,225.7 L569.0,224.4 L567.6,223.2 L566.1,221.9 L565.9,222.1 L567.4,223.4 L568.7,224.7 L570.0,226.1 L571.3,227.5 L572.4,229.0 L573.5,230.5 L574.6,232.0 L575.5,233.5 L576.4,235.1 L577.3,236.8 L578.1,238.4 L578.8,240.1 L579.4,241.9 L580.0,243.6 L580.6,245.4 L581.0,247.3Z" fill="#1e8535"/>
<path d="M480.0,188.3 L480.3,188.9 L480.6,189.5 L480.9,190.1 L481.3,190.7 L481.6,191.3 L482.0,192.0 L482.4,192.6 L482.7,193.2 L483.1,193.9 L483.5,194.5 L483.8,195.1 L484.2,195.8 L484.5,196.4 L484.9,197.0 L485.2,197.6 L485.5,198.1 L487.5,196.9 L487.1,196.3 L486.7,195.8 L486.3,195.2 L485.9,194.7 L485.5,194.1 L485.1,193.5 L484.7,192.9 L484.3,192.3 L483.8,191.7 L483.4,191.1 L483.0,190.5 L482.6,189.9 L482.2,189.3 L481.8,188.7 L481.4,188.2 L481.0,187.7Z" fill="#3d8f45"/>
<ellipse cx="483.5" cy="192.8" rx="5.6" ry="1.3" transform="rotate(57.7 483.5 192.8)" fill="#3d8f45"/>
<path d="M531.9,185.2 L531.6,185.7 L531.4,186.3 L531.1,186.8 L530.8,187.3 L530.5,187.9 L530.3,188.5 L530.0,189.1 L529.7,189.6 L529.4,190.2 L529.1,190.8 L528.8,191.4 L528.5,191.9 L528.2,192.5 L528.0,193.0 L527.7,193.5 L527.4,194.0 L529.6,195.0 L529.8,194.4 L530.0,193.9 L530.2,193.3 L530.4,192.8 L530.6,192.2 L530.9,191.6 L531.1,191.0 L531.3,190.4 L531.6,189.8 L531.8,189.2 L532.0,188.6 L532.3,188.0 L532.5,187.4 L532.7,186.8 L532.9,186.3 L533.1,185.8Z" fill="#3d8f45"/>
<ellipse cx="530.5" cy="190.0" rx="4.9" ry="1.3" transform="rotate(114.0 530.5 190.0)" fill="#3d8f45"/>
<path d="M577.4,186.2 L577.1,186.8 L576.9,187.3 L576.6,187.9 L576.3,188.5 L576.0,189.1 L575.7,189.7 L575.4,190.3 L575.1,190.9 L574.8,191.5 L574.5,192.1 L574.2,192.7 L573.9,193.3 L573.6,193.9 L573.3,194.4 L573.0,195.0 L572.7,195.5 L574.9,196.5 L575.1,195.9 L575.3,195.3 L575.5,194.7 L575.8,194.1 L576.0,193.5 L576.2,192.9 L576.5,192.3 L576.7,191.6 L577.0,191.0 L577.2,190.3 L577.5,189.7 L577.7,189.1 L577.9,188.5 L578.2,187.9 L578.4,187.3 L578.6,186.8Z" fill="#3d8f45"/>
<ellipse cx="575.9" cy="191.2" rx="5.2" ry="1.3" transform="rotate(113.9 575.9 191.2)" fill="#3d8f45"/>
<path d="M593.0,185.7 L592.7,186.3 L592.5,186.8 L592.2,187.4 L591.9,188.0 L591.6,188.6 L591.3,189.2 L591.0,189.8 L590.7,190.4 L590.4,191.0 L590.1,191.6 L589.8,192.2 L589.5,192.8 L589.2,193.4 L588.9,193.9 L588.6,194.5 L588.3,195.0 L590.5,196.0 L590.7,195.4 L590.9,194.8 L591.1,194.2 L591.4,193.6 L591.6,193.0 L591.8,192.4 L592.1,191.8 L592.3,191.1 L592.6,190.5 L592.8,189.8 L593.1,189.2 L593.3,188.6 L593.5,188.0 L593.8,187.4 L594.0,186.8 L594.2,186.3Z" fill="#3d8f45"/>
<ellipse cx="591.5" cy="190.8" rx="5.2" ry="1.3" transform="rotate(113.9 591.5 190.8)" fill="#3d8f45"/>
<ellipse cx="600" cy="185" rx="2" ry="4.5" fill="#b9c4bb"/>
<!-- green strip -->
<path d="M456.5 243.8 H600 V255 H477.5 Z" fill="#12a034"/>
<path d="M476 254.2 H600" stroke="#0b7f28" stroke-width="1.2"/>

<!-- labels -->
<text x="238.8" y="120.3" font-size="17.1" fill="#000" stroke="#000" stroke-width="0.25">Pump Controller</text>
<text x="35.3" y="264.3" font-size="17.1" fill="#000" stroke="#000" stroke-width="0.25">Ground Level</text>
<text x="285.3" y="431.7" font-size="17.1" fill="#000" stroke="#000" stroke-width="0.25">Submersible Pump</text>
</svg>
</body></html>
